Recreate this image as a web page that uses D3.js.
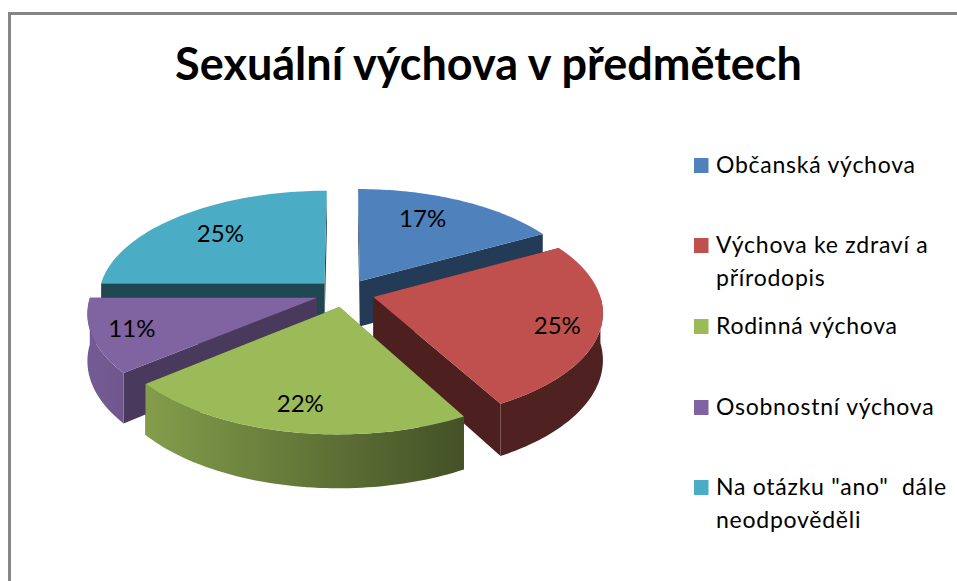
<!DOCTYPE html>
<html><head><meta charset="utf-8">
<script src="https://cdn.jsdelivr.net/npm/d3@7"></script>
<style>html,body{margin:0;padding:0;background:#fff}svg{display:block}text{font-family:Lato,"Open Sans",sans-serif;fill:#000;white-space:pre}</style>
</head><body><svg id="c" width="957" height="581"></svg>
<script>
const titleText = "Sexuální výchova v předmětech";
const categories = ["Občanská výchova","Výchova ke zdraví a|přírodopis","Rodinná výchova","Osobnostní výchova","Na otázku \"ano\"  dále|neodpověděli"];
const values = [17,25,22,11,25];
const colors = ["#4f81bd","#c0504d","#9bbb59","#8064a2","#4bacc6"];
const wallShade = [0.46,0.40,0.42,0.57,0.41];
const labelRadius = [0.72,0.82,0.80,0.83,0.71];
const labelShiftDeg = [-5,2,0,0,0];
const legendBaselines = [173,253,334,415,495];

const W=957,H=581,cx=345,cy=293,R=226,ry=107,persp=0.13,explode=0.13,depth=46;
const svg=d3.select("#c");
const defs=svg.append("defs");

svg.append("path").attr("d",`M9.5 ${H} V13.5 H${W}`).attr("fill","none").attr("stroke","#868686").attr("stroke-width",3);
svg.append("text").attr("x",488.5).attr("y",80).attr("text-anchor","middle").attr("font-weight",700).attr("font-size",45).text(titleText);

const pieGen=d3.pie().value(d=>d).sort(null);
const arcs=pieGen(values).map((a,i)=>({...a,i,mid:(a.startAngle+a.endAngle)/2}));
const sx=d3.scaleLinear().domain([0,1]).range([0,R]);
const sy=d3.scaleLinear().domain([0,1]).range([0,ry]);
function proj(u,v,z){const s=1/(1-persp*v);return [cx+sx(u)*s, cy+sy(v)*s+z*depth*s];}
function pt(a,ang,r,z){const u=Math.sin(a.mid)*explode+Math.sin(ang)*r, v=-Math.cos(a.mid)*explode-Math.cos(ang)*r;return proj(u,v,z);}
const line=d3.line();
const sampleAngles=(s,e)=>{const n=60;return d3.range(n+1).map(k=>s+(e-s)*k/n);};

const g=svg.append("g");
const order=arcs.slice().sort((p,q)=>d3.ascending(-Math.cos(p.mid),-Math.cos(q.mid)));
order.forEach(a=>{
  const col=colors[a.i], shade=wallShade[a.i];
  const wallCol=d3.rgb(col); const f=k=>d3.rgb(wallCol.r*k,wallCol.g*k,wallCol.b*k).formatHex();
  const gid="w"+a.i;
  const gr=defs.append("linearGradient").attr("id",gid).attr("gradientUnits","userSpaceOnUse")
    .attr("x1",100).attr("x2",480).attr("y1",0).attr("y2",0);
  gr.append("stop").attr("offset",0).attr("stop-color",f(0.90));
  gr.append("stop").attr("offset",1).attr("stop-color",f(0.41));
  const ang=sampleAngles(a.startAngle,a.endAngle);
  const apexT=pt(a,0,0,0), apexB=pt(a,0,0,1);
  [a.startAngle,a.endAngle].forEach(e=>{
    g.append("path").attr("d",line([apexT,pt(a,e,1,0),pt(a,e,1,1),apexB])+"Z").attr("fill",f(shade));
  });
  const s=Math.max(a.startAngle,Math.PI/2), e=Math.min(a.endAngle,3*Math.PI/2);
  if(e>s){
    const front=sampleAngles(s,e);
    const outer=front.map(t=>pt(a,t,1,0)).concat(front.slice().reverse().map(t=>pt(a,t,1,1)));
    g.append("path").attr("d",line(outer)+"Z").attr("fill",`url(#${gid})`);
  }
  const top=[apexT].concat(ang.map(t=>pt(a,t,1,0)));
  g.append("path").attr("d",line(top)+"Z").attr("fill",col);
});
arcs.forEach(a=>{
  const p=pt(a,a.mid+labelShiftDeg[a.i]*Math.PI/180,labelRadius[a.i],0);
  svg.append("text").attr("x",p[0]).attr("y",p[1]+8).attr("text-anchor","middle").attr("font-size",24).text(values[a.i]+"%");
});
categories.forEach((c,i)=>{
  const b=legendBaselines[i];
  svg.append("rect").attr("x",694).attr("y",b-15).attr("width",14.5).attr("height",15).attr("fill",colors[i]);
  c.split("|").forEach((t,k)=>{
    svg.append("text").attr("x",716).attr("y",b+k*32.5).attr("font-size",23).attr("letter-spacing",0.75).text(t);
  });
});
</script></body></html>
